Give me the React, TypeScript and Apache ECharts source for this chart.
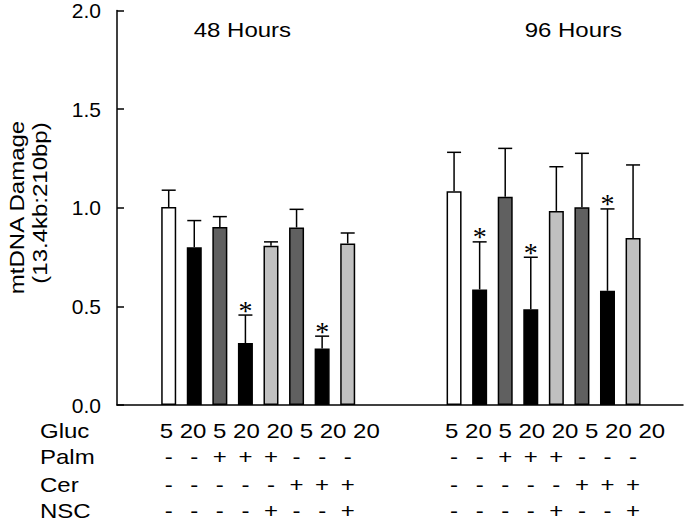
import React, { useEffect, useRef } from "react";
import * as echarts from "echarts";

// ---- data ----
const GROUP_TITLES = ["48 Hours", "96 Hours"];
const ROW_NAMES = ["Gluc", "Palm", "Cer", "NSC"];
const GLUC = ["5", "20", "5", "20", "20", "5", "20", "20"];
const PALM = ["-", "-", "+", "+", "+", "-", "-", "-"];
const CER = ["-", "-", "-", "-", "-", "+", "+", "+"];
const NSC = ["-", "-", "-", "-", "+", "-", "-", "+"];

const MEAN_48 = [1.004, 0.8, 0.903, 0.314, 0.807, 0.9, 0.287, 0.819];
const ERR_48 = [0.085, 0.135, 0.052, 0.142, 0.02, 0.092, 0.062, 0.053];
const SIG_48 = [0, 0, 0, 1, 0, 0, 1, 0];

const MEAN_96 = [1.084, 0.586, 1.056, 0.486, 0.984, 1.003, 0.579, 0.847];
const ERR_96 = [0.197, 0.241, 0.245, 0.263, 0.224, 0.273, 0.415, 0.37];
const SIG_96 = [0, 1, 0, 1, 0, 0, 1, 0];

const Y_MIN = 0;
const Y_MAX = 2;
const Y_STEP = 0.5;

// ---- layout / style ----
const GROUP_STARTS = [0, 11.16];
const X_MIN = -2.022;
const X_MAX = 20.113;
const BAR_COLORS = ["#ffffff", "#000000", "#606060", "#000000", "#c0c0c0", "#606060", "#000000", "#c0c0c0"];
const FONT = '"Liberation Sans", Arial, sans-serif';
const FS = 20;
const SX = 1.2;
const ROW_Y = [431, 457.5, 485.5, 511.5];

const MEANS = [MEAN_48, MEAN_96];
const ERRS = [ERR_48, ERR_96];
const SIGS = [SIG_48, SIG_96];

export default function App() {
  const ref = useRef<HTMLDivElement>(null);

  useEffect(() => {
    if (!ref.current) return;
    const chart = echarts.init(ref.current, null, { renderer: "svg" });

    const barData: any[] = [];
    const errData: number[][] = [];
    const tableData: number[][] = [];
    GROUP_STARTS.forEach((start, g) => {
      MEANS[g].forEach((m, i) => {
        barData.push({
          value: [start + i, m],
          itemStyle: { color: BAR_COLORS[i], borderColor: "#000", borderWidth: 1.5 },
        });
        errData.push([start + i, m, ERRS[g][i], SIGS[g][i]]);
        tableData.push([start + i, i]);
      });
    });
    const glucData = GROUP_STARTS.map((s, g) => [s, g]);

    const txt = (text: string, x: number, y: number, align: string, extra: any = {}) => ({
      type: "text",
      x,
      y,
      scaleX: SX,
      style: {
        text,
        fill: "#000",
        fontSize: FS,
        fontFamily: FONT,
        align,
        verticalAlign: "middle",
        ...extra,
      },
    });

    chart.setOption({
      animation: false,
      backgroundColor: "#fff",
      grid: { left: 117, right: 1, top: 10, bottom: 117 },
      xAxis: {
        type: "value",
        min: X_MIN,
        max: X_MAX,
        axisLine: { show: true, onZero: false, lineStyle: { color: "#000", width: 1.5 } },
        axisTick: { show: false },
        axisLabel: { show: false },
        splitLine: { show: false },
      },
      yAxis: {
        type: "value",
        min: Y_MIN,
        max: Y_MAX,
        interval: Y_STEP,
        axisLine: { show: true, onZero: false, lineStyle: { color: "#000", width: 1.5 } },
        axisTick: { show: true, inside: true, length: 7, lineStyle: { color: "#000", width: 1.5 } },
        axisLabel: {
          color: "#000",
          fontSize: 21,
          fontFamily: FONT,
          margin: 16,
          formatter: (v: number) => v.toFixed(1),
        },
        splitLine: { show: false },
      },
      graphic: [
        txt(GROUP_TITLES[0], 242.4, 30.5, "center"),
        txt(GROUP_TITLES[1], 573.3, 30.5, "center"),
        { ...txt("mtDNA Damage", 17, 207.5, "center"), rotation: Math.PI / 2, scaleX: 1.2 },
        { ...txt("(13.4kb:210bp)", 40, 203, "center"), rotation: Math.PI / 2, scaleX: 1.2 },
        ...ROW_NAMES.map((n, r) => txt(n, 40, ROW_Y[r], "left")),
      ],
      series: [
        {
          type: "bar",
          data: barData,
          barWidth: 15,
          silent: true,
        },
        {
          type: "custom",
          clip: false,
          data: errData,
          renderItem: (params: any, api: any) => {
            const x = api.value(0);
            const m = api.value(1);
            const e = api.value(2);
            const s = api.value(3);
            const base = api.coord([x, m]);
            const top = api.coord([x, m + e]);
            const children: any[] = [
              {
                type: "line",
                shape: { x1: base[0], y1: base[1], x2: top[0], y2: top[1] },
                style: { stroke: "#000", lineWidth: 1.5 },
              },
              {
                type: "line",
                shape: { x1: top[0] - 7, y1: top[1], x2: top[0] + 7, y2: top[1] },
                style: { stroke: "#000", lineWidth: 1.5 },
              },
            ];
            if (s) {
              children.push({
                type: "text",
                x: top[0],
                y: top[1] - 5,
                style: {
                  text: "*",
                  fill: "#000",
                  fontSize: 28,
                  fontFamily: '"Liberation Serif", "Times New Roman", serif',
                  align: "center",
                  verticalAlign: "middle",
                },
              });
            }
            return { type: "group", children };
          },
        },
        {
          type: "custom",
          clip: false,
          data: tableData,
          renderItem: (params: any, api: any) => {
            const x = api.value(0);
            const i = api.value(1);
            const p = api.coord([x, 0]);
            return {
              type: "group",
              children: [
                txt(PALM[i], p[0], ROW_Y[1], "center"),
                txt(CER[i], p[0], ROW_Y[2], "center"),
                txt(NSC[i], p[0], ROW_Y[3], "center"),
              ],
            };
          },
        },
        {
          type: "custom",
          clip: false,
          data: glucData,
          renderItem: (params: any, api: any) => {
            const x = api.value(0);
            const p = api.coord([x, 0]);
            return txt(GLUC.join(" "), p[0] - 9, ROW_Y[0], "left");
          },
        },
      ],
    });

    return () => chart.dispose();
  }, []);

  return (
    <div
      ref={ref}
      style={{ position: "fixed", left: 0, top: 0, width: 684, height: 522, background: "#fff" }}
    />
  );
}
